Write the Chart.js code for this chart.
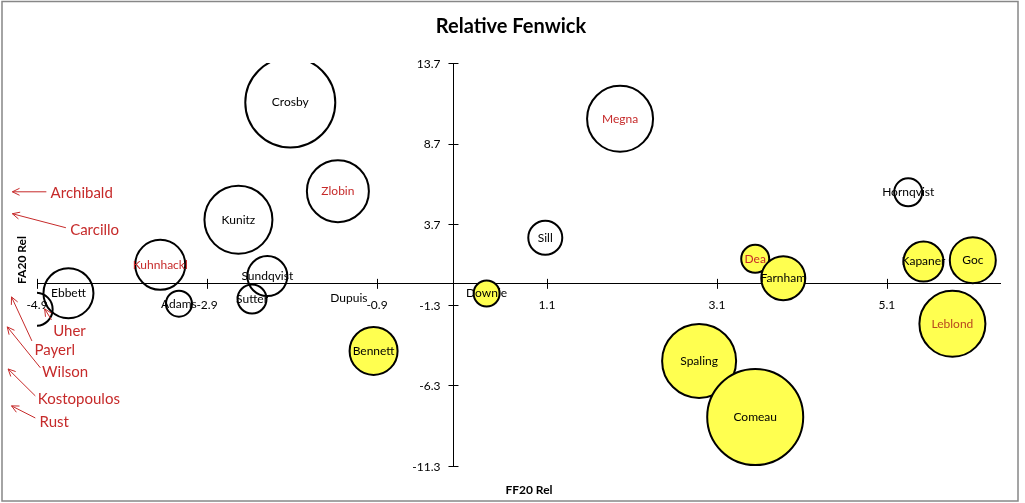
<!DOCTYPE html>
<html>
<head>
<meta charset="utf-8">
<script src="https://cdn.jsdelivr.net/npm/chart.js@4.4.0/dist/chart.umd.min.js"></script>
<style>
  body { margin: 0; background: #fff; }
  .chart-box { width: 1025px; height: 503px; }
</style>
</head>
<body>
<div class="chart-box"><canvas id="fenwickChart"></canvas></div>
<script>
// players shown as plain (unfilled) bubbles
const whiteNames = ['Crosby', 'Zlobin', 'Kunitz', 'Megna', 'Sill', 'Hornqvist', 'Kuhnhackl', 'Sundqvist', 'Ebbett', 'Adams', 'Sutter', 'Dupuis']
const whiteX = [-1.92, -1.36, -2.53, 1.96, 1.08, 5.35, -3.45, -2.19, -4.53, -3.23, -2.37, -1.23]
const whiteY = [11.25, 5.75, 3.97, 10.24, 2.86, 5.68, 1.18, 0.48, -0.58, -1.23, -0.94, -0.89]
const whiteR = [45, 31, 34, 33, 17, 14, 25, 20, 25, 13, 14.5, 0]

// players shown as yellow bubbles
const yellowNames = ['Spaling', 'Comeau', 'Bennett', 'Downie', 'Dea', 'Farnham', 'Kapaner', 'Goc', 'Leblond']
const yellowX = [2.89, 3.55, -0.94, 0.39, 3.55, 3.88, 5.53, 6.11, 5.87]
const yellowY = [-4.78, -8.26, -4.16, -0.60, 1.55, 0.35, 1.38, 1.47, -2.48]
const yellowR = [37, 48, 24, 13, 14, 22, 20, 23, 33]

// bubble cut off by the left edge of the plot
const edgeX = [-4.91]
const edgeY = [-1.58]
const edgeR = [16.5]

const redNames = ['Megna', 'Zlobin', 'Kuhnhackl', 'Dea', 'Leblond']

const xTicks = [-4.9, -2.9, -0.9, 1.1, 3.1, 5.1]
const yTicks = [13.7, 8.7, 3.7, -1.3, -6.3, -11.3]

// players off the left side of the chart, with arrows (data coords)
const offNames = ['Archibald', 'Carcillo', 'Uher', 'Payerl', 'Wilson', 'Kostopoulos', 'Rust']
const offTextX = [-4.74, -4.51, -4.71, -4.93, -4.84, -4.89, -4.87]
const offTextY = [5.65, 3.35, -2.92, -4.10, -5.46, -7.14, -8.57]
const offTailX = [-4.79, -4.56, -4.73, -4.96, -4.86, -4.92, -4.92]
const offTailY = [5.71, 3.48, -2.23, -3.54, -5.21, -6.95, -8.32]
const offHeadX = [-5.19, -5.19, -4.81, -5.20, -5.25, -5.24, -5.20]
const offHeadY = [5.71, 4.35, -1.55, -0.81, -2.67, -5.28, -7.57]

const FONT = 'Lato, "Open Sans", sans-serif'
const RED = '#c62a2a'

const toPoints = (xs, ys, rs) => xs.map((x, i) => ({ x: x, y: ys[i], r: rs[i] }))

const drawArrow = (ctx, x1, y1, x2, y2) => {
    const a = Math.atan2(y2 - y1, x2 - x1)
    const len = 8
    ctx.beginPath()
    ctx.moveTo(x1, y1)
    ctx.lineTo(x2, y2)
    ctx.moveTo(x2 - len * Math.cos(a - 0.45), y2 - len * Math.sin(a - 0.45))
    ctx.lineTo(x2, y2)
    ctx.lineTo(x2 - len * Math.cos(a + 0.45), y2 - len * Math.sin(a + 0.45))
    ctx.stroke()
}

const decorPlugin = {
    id: 'decor',
    afterDraw(chart) {
        const ctx = chart.ctx
        const xs = chart.scales.x
        const ys = chart.scales.y
        const x0 = xs.getPixelForValue(0)
        const y0 = ys.getPixelForValue(0)
        ctx.save()

        // cross tick marks
        ctx.strokeStyle = '#000'
        ctx.lineWidth = 1
        ctx.beginPath()
        xTicks.forEach(v => {
            const px = Math.round(xs.getPixelForValue(v)) + 0.5
            ctx.moveTo(px, y0 - 5)
            ctx.lineTo(px, y0 + 5)
        })
        yTicks.forEach(v => {
            const py = Math.round(ys.getPixelForValue(v)) + 0.5
            ctx.moveTo(x0 - 5, py)
            ctx.lineTo(x0 + 5, py)
        })
        ctx.stroke()

        // y tick labels, left of the centred axis
        ctx.font = '12px ' + FONT
        ctx.fillStyle = '#000'
        ctx.textAlign = 'right'
        ctx.textBaseline = 'middle'
        ys.ticks.forEach(t => {
            ctx.fillText(t.value.toFixed(1), x0 - 13, ys.getPixelForValue(t.value) + 1)
        })

        // bubble labels
        ctx.textAlign = 'center'
        const labelSets = [[0, whiteNames], [2, yellowNames]]
        labelSets.forEach(([idx, names]) => {
            chart.getDatasetMeta(idx).data.forEach((el, i) => {
                ctx.fillStyle = redNames.includes(names[i]) ? (names[i] === 'Leblond' ? '#b8461e' : RED) : '#000'
                ctx.fillText(names[i], el.x, el.y)
            })
        })

        // off-chart players
        ctx.font = '15px ' + FONT
        ctx.textAlign = 'left'
        ctx.fillStyle = RED
        ctx.strokeStyle = RED
        ctx.lineWidth = 1
        offNames.forEach((name, i) => {
            ctx.fillText(name, xs.getPixelForValue(offTextX[i]), ys.getPixelForValue(offTextY[i]))
            drawArrow(ctx,
                xs.getPixelForValue(offTailX[i]), ys.getPixelForValue(offTailY[i]),
                xs.getPixelForValue(offHeadX[i]), ys.getPixelForValue(offHeadY[i]))
        })

        // titles
        ctx.fillStyle = '#000'
        ctx.textAlign = 'center'
        ctx.font = 'bold 20px ' + FONT
        ctx.fillText('Relative Fenwick', 511, 27)
        ctx.font = 'bold 12px ' + FONT
        ctx.fillText('FF20 Rel', 529, 490)
        ctx.translate(22, 260)
        ctx.rotate(-Math.PI / 2)
        ctx.fillText('FA20 Rel', 0, 0)
        ctx.restore()

        // outer frame
        ctx.save()
        ctx.strokeStyle = '#878787'
        ctx.lineWidth = 1.5
        ctx.strokeRect(2, 1.5, 1016, 499.5)
        ctx.restore()
    }
}

const axisTicks = (values) => ({
    afterBuildTicks: scale => { scale.ticks = values.map(v => ({ value: v })) },
})

const myChart = document.getElementById('fenwickChart').getContext('2d')

new Chart(myChart, {
    type: 'bubble',
    data: {
        datasets: [{
            data: toPoints(whiteX, whiteY, whiteR),
            backgroundColor: 'rgba(255,255,255,0)',
            borderColor: '#000',
            borderWidth: 2
        }, {
            data: toPoints(edgeX, edgeY, edgeR),
            backgroundColor: 'rgba(255,255,255,0)',
            borderColor: '#000',
            borderWidth: 2,
            clip: { left: 0, top: false, right: false, bottom: false }
        }, {
            data: toPoints(yellowX, yellowY, yellowR),
            backgroundColor: '#ffff50',
            borderColor: '#000',
            borderWidth: 2
        }]
    },
    options: {
        responsive: true,
        maintainAspectRatio: false,
        animation: false,
        events: [],
        layout: { autoPadding: false, padding: { left: 37, right: 25, top: 63, bottom: 37 } },
        plugins: {
            legend: { display: false },
            tooltip: { enabled: false }
        },
        scales: {
            x: {
                type: 'linear',
                min: -4.9,
                max: 6.43,
                position: { y: 0 },
                ...axisTicks(xTicks),
                grid: { display: true, drawOnChartArea: false, drawTicks: false },
                border: { display: true, color: '#000', width: 1 },
                ticks: {
                    padding: 14,
                    color: '#000',
                    autoSkip: false,
                    maxRotation: 0,
                    font: { family: FONT, size: 12 },
                    callback: v => v.toFixed(1)
                }
            },
            y: {
                type: 'linear',
                min: -11.3,
                max: 13.7,
                position: { x: 0 },
                ...axisTicks(yTicks),
                grid: { display: true, drawOnChartArea: false, drawTicks: false },
                border: { display: true, color: '#000', width: 1 },
                ticks: { display: false }
            }
        }
    },
    plugins: [decorPlugin]
})
</script>
</body>
</html>
